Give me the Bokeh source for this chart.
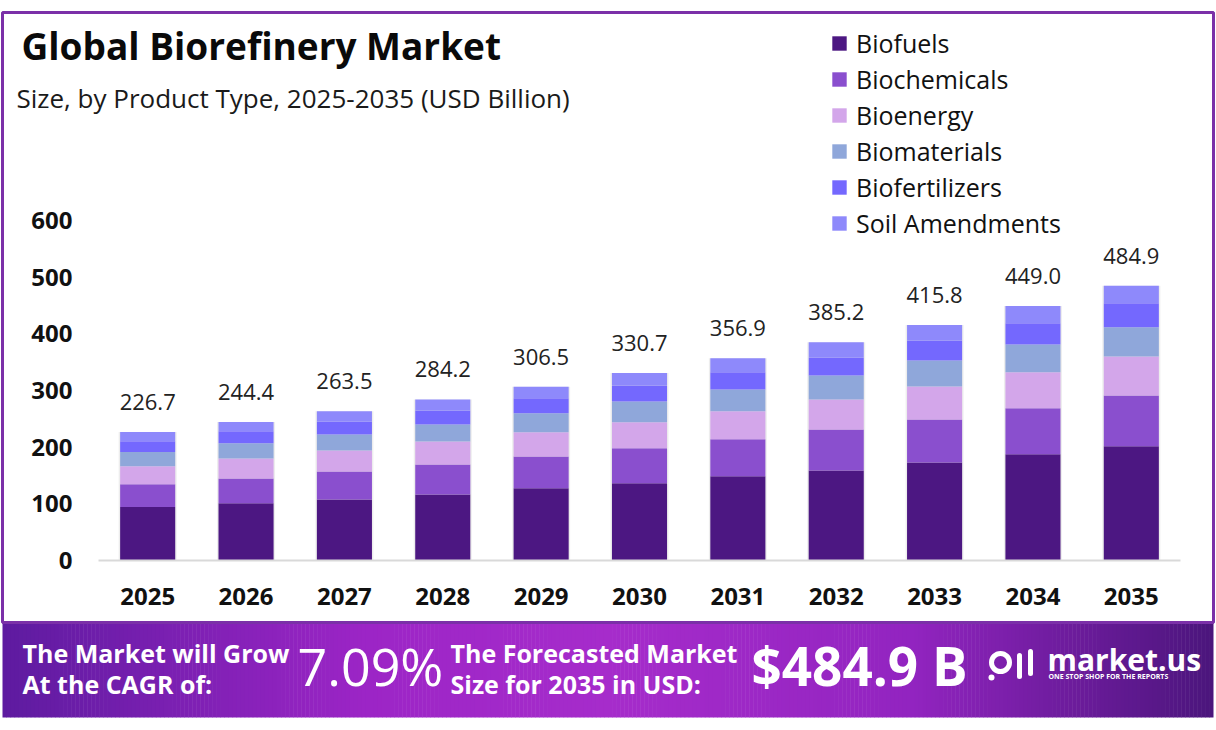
import numpy as np
from bokeh.plotting import figure
from bokeh.models import (Range1d, FixedTicker, Label, BoxAnnotation, ColumnDataSource)
from bokeh.embed import file_html
from bokeh.resources import INLINE
from bokeh.core.properties import value

# ---------------- data ----------------
years = ["2025", "2026", "2027", "2028", "2029", "2030", "2031", "2032", "2033", "2034", "2035"]
totals = [226.7, 244.4, 263.5, 284.2, 306.5, 330.7, 356.9, 385.2, 415.8, 449.0, 484.9]
biofuels = [94.5, 101.1, 107.6, 116.5, 127.6, 136.4, 148.8, 158.8, 172.9, 187.6, 201.7]
biochemicals = [40.0, 43.6, 49.4, 52.9, 55.9, 61.8, 65.3, 72.3, 75.9, 81.2, 89.5]
bioenergy = [32.0, 35.3, 37.1, 40.6, 42.9, 45.9, 49.4, 52.9, 58.2, 63.5, 68.8]
biomaterials = [25.0, 27.0, 28.2, 30.0, 33.5, 36.5, 38.3, 42.4, 45.9, 48.9, 51.7]
biofertilizers = [19.0, 21.2, 22.4, 24.7, 26.5, 28.2, 30.5, 31.2, 35.3, 37.6, 42.4]
soil_amendments = [16.2, 16.2, 18.8, 19.5, 20.1, 21.9, 24.6, 27.6, 27.6, 30.2, 30.8]
series_names = ["Biofuels", "Biochemicals", "Bioenergy", "Biomaterials", "Biofertilizers", "Soil Amendments"]
y_ticks = [0, 100, 200, 300, 400, 500, 600]
cagr_text = "7.09%"
forecast_text = "$484.9 B"

colors = ["#4C1782", "#8A4FCE", "#D3A6EA", "#8FA7DA", "#7468FE", "#8E89FB"]
FONT = "Open Sans"

xpos = list(range(len(years)))
keys = ["biofuels", "biochemicals", "bioenergy", "biomaterials", "biofertilizers", "soil"]
source = ColumnDataSource(dict(
    x=xpos, biofuels=biofuels, biochemicals=biochemicals, bioenergy=bioenergy,
    biomaterials=biomaterials, biofertilizers=biofertilizers, soil=soil_amendments,
    total=totals, label=[f"{t:.1f}" for t in totals]))

W, H = 1216, 730
X0, X1 = 98, 1180     # px span of the category band
SLOT = (X1 - X0) / len(years)
BASE = 560            # px (from top) of y = 0
PXU = 340 / 600       # px per unit
x_start = -0.5 - X0 / SLOT
x_end = x_start + W / SLOT
y_start = -(H - BASE) / PXU
y_end = BASE / PXU

p = figure(width=W, height=H, x_range=Range1d(x_start, x_end), y_range=Range1d(y_start, y_end),
           output_backend="svg", toolbar_location=None, min_border=0)
p.extra_x_ranges = {"px": Range1d(0, W)}
p.extra_y_ranges = {"py": Range1d(0, H)}
p.outline_line_color = None
p.xgrid.grid_line_color = None
p.ygrid.grid_line_color = None
p.background_fill_color = "white"
p.border_fill_color = "white"
p.title.visible = False

# soft bar shadow
p.vbar(x="x", top="total", width=0.59, bottom=0, source=source, color="#000000",
       alpha=0.07, line_color=None)

# bars
p.vbar_stack(keys, x="x", width=0.56, color=colors, line_color=None,
             source=source, legend_label=series_names)

p.text(x="x", y="total", text="label", source=source, text_align="center",
       text_baseline="middle", y_offset=-30, text_font=value(FONT),
       text_font_size="22px", text_color="#222222")

# axes drawn inside the frame at fixed locations
yax = p.yaxis[0]
yax.fixed_location = -0.5
yax.ticker = FixedTicker(ticks=y_ticks)
yax.axis_line_color = None
yax.major_tick_line_color = None
yax.minor_tick_line_color = None
yax.major_label_standoff = 20
yax.major_label_text_font = FONT
yax.major_label_text_font_style = "bold"
yax.major_label_text_font_size = "24px"
yax.major_label_text_color = "#111111"

xax = p.xaxis[0]
xax.fixed_location = 0
xax.bounds = (-0.5, len(years) - 0.5)
xax.ticker = FixedTicker(ticks=xpos)
xax.major_label_overrides = {i: y for i, y in zip(xpos, years)}
xax.axis_line_color = "#d9d9d9"
xax.axis_line_width = 2
xax.major_tick_line_color = None
xax.minor_tick_line_color = None
xax.major_label_standoff = 21
xax.major_label_text_font = FONT
xax.major_label_text_font_style = "bold"
xax.major_label_text_font_size = "24px"
xax.major_label_text_color = "#111111"

# legend
lg = p.legend[0]
lg.location = (830, 489)
lg.label_text_font = FONT
lg.label_text_font_size = "25px"
lg.label_text_color = "#111111"
lg.glyph_width = 18
lg.glyph_height = 18
lg.label_height = 36
lg.spacing = 0
lg.padding = 0
lg.margin = 0
lg.label_standoff = 8
lg.background_fill_alpha = 0
lg.border_line_color = None

# titles
p.add_layout(Label(x=21, y=H - 45, x_units="screen", y_units="screen",
                   text="Global Biorefinery Market", text_font=FONT, text_font_style="bold",
                   text_font_size="37px", text_color="#0a0a0a", text_baseline="middle"))
p.add_layout(Label(x=16, y=H - 97, x_units="screen", y_units="screen",
                   text="Size, by Product Type, 2025-2035 (USD Billion)", text_font=FONT,
                   text_font_size="26px", text_color="#1a1a1a", text_baseline="middle"))

# ---------------- banner ----------------
BL, BR = 2, 1213
stops = [(0.0, (0x5E, 0x1B, 0xA0)), (0.3, (0x9C, 0x25, 0xC6)), (0.5, (0xA6, 0x2C, 0xCB)),
         (0.75, (0x92, 0x24, 0xC0)), (1.0, (0x4B, 0x15, 0x7C))]
n = 300
edges = np.linspace(BL, BR, n + 1)
gcols = []
for i in range(n):
    t = (i + 0.5) / n
    for j in range(len(stops) - 1):
        if stops[j][0] <= t <= stops[j + 1][0]:
            a0, c0 = stops[j]
            a1, c1 = stops[j + 1]
            f = (t - a0) / (a1 - a0)
            c = tuple(int(round(c0[k] + (c1[k] - c0[k]) * f)) for k in range(3))
            gcols.append("#%02x%02x%02x" % c)
            break
p.quad(left=edges[:-1], right=np.minimum(edges[1:] + 0.5, BR), bottom=H - 717, top=H - 622,
       color=gcols, line_color=None, x_range_name="px", y_range_name="py")

# frame border
p.add_layout(BoxAnnotation(left=BL, right=BR, top=H - 12, bottom=H - 622,
                           left_units="screen", right_units="screen",
                           top_units="screen", bottom_units="screen",
                           fill_alpha=0, line_color="#7B30A8", line_alpha=1.0, line_width=3))

def btxt(x, y, t, size, bold=True):
    p.add_layout(Label(x=x, y=H - y, x_units="screen", y_units="screen", text=t, text_font=FONT,
                       text_font_style="bold" if bold else "normal",
                       text_font_size=size, text_color="white", text_baseline="middle"))

btxt(22, 652, "The Market will Grow", "25px")
btxt(22, 683, "At the CAGR of:", "25px")
btxt(297, 665, cagr_text, "52px", bold=False)
btxt(450, 652, "The Forecasted Market", "25px")
btxt(450, 683, "Size for 2035 in USD:", "25px")
btxt(751, 665, forecast_text, "53px")
btxt(1047, 659, "market.us", "30px")
btxt(1048, 676, "ONE STOP SHOP FOR THE REPORTS", "7px")

# simple logo mark
p.circle(x=[1000], y=[H - 662], radius=9, fill_color=None, line_color="white", line_width=5,
         x_range_name="px", y_range_name="py")
p.segment(x0=[1019, 1030], y0=[H - 676, H - 673], x1=[1019, 1030], y1=[H - 655, H - 651],
          line_color="white", line_width=5, line_cap="round", x_range_name="px", y_range_name="py")
p.circle(x=[991], y=[H - 677], radius=3, fill_color="white", line_color=None,
         x_range_name="px", y_range_name="py")

open("out.html", "w").write(file_html(p, INLINE))
